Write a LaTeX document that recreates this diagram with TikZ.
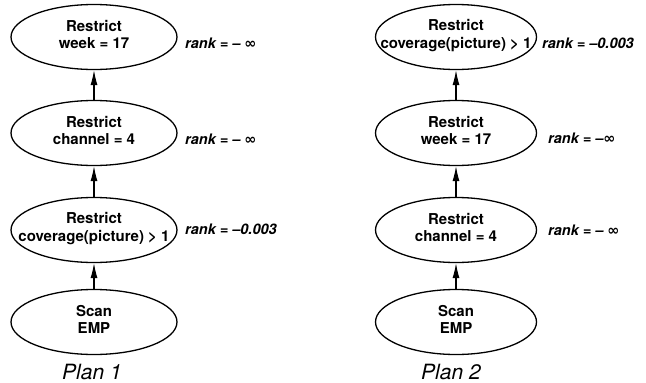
\documentclass[tikz,border=0pt]{standalone}
\usepackage{fontspec}
\setmainfont{TeX Gyre Heros}
\newfontfamily\symfont{DejaVu Sans}
\usetikzlibrary{shapes.geometric,arrows.meta}
\newcommand{\optext}[2]{\makebox[0pt]{\raisebox{6pt}{\shortstack{#1\\[3pt]#2}}}}
\begin{document}
\begin{tikzpicture}[x=1pt,y=-1pt,
  opbox/.style={draw, line width=1.3pt, ellipse, minimum width=166pt, minimum height=65pt, inner sep=0pt,
     font=\bfseries\fontsize{15}{21}\selectfont},
  rankl/.style={anchor=west, inner sep=0pt, font=\bfseries\itshape\fontsize{14.5}{17}\selectfont},
  planl/.style={inner sep=0pt, font=\itshape\fontsize{21}{24}\selectfont},
  flow/.style={line width=1.1pt, -{Latex[length=15pt,width=7pt]}}
]
\useasboundingbox (0,0) rectangle (646,383);
% Plan 1
\node[opbox] (a1) at (94,37) {\optext{Restrict}{week = 17}};
\node[opbox] (a2) at (94,133) {\optext{Restrict}{channel = 4}};
\node[opbox] (a3) at (94,230) {\optext{Restrict}{coverage(picture) > 1}};
\node[opbox] (a4) at (94,322) {\optext{Scan}{EMP}};
\draw[flow] (a2.north) -- (a1.south);
\draw[flow] (a3.north) -- (a2.south);
\draw[flow] (a4.north) -- (a3.south);
\node[rankl] (r1) at (185,43) {rank = – {\symfont\bfseries\itshape ∞}};
\node[rankl] (r2) at (185,139) {rank = – {\symfont\bfseries\itshape ∞}};
\node[rankl] (r3) at (185,229) {rank = –0.003};
\node[planl] (p1) at (92,372) {Plan 1};
% Plan 2
\node[opbox, minimum width=161pt] (b1) at (456,37) {\optext{Restrict}{coverage(picture) > 1}};
\node[opbox, minimum width=161pt] (b2) at (456,133) {\optext{Restrict}{week = 17}};
\node[opbox, minimum width=161pt] (b3) at (456,230) {\optext{Restrict}{channel = 4}};
\node[opbox, minimum width=161pt] (b4) at (456,322) {\optext{Scan}{EMP}};
\draw[flow] (b2.north) -- (b1.south);
\draw[flow] (b3.north) -- (b2.south);
\draw[flow] (b4.north) -- (b3.south);
\node[rankl] (s1) at (542,43) {rank = –0.003};
\node[rankl] (s2) at (548,138) {rank = –{\symfont\bfseries\itshape ∞}};
\node[rankl] (s3) at (548,230) {rank = – {\symfont\bfseries\itshape ∞}};
\node[planl] (p2) at (451,372) {Plan 2};
\end{tikzpicture}
\end{document}
